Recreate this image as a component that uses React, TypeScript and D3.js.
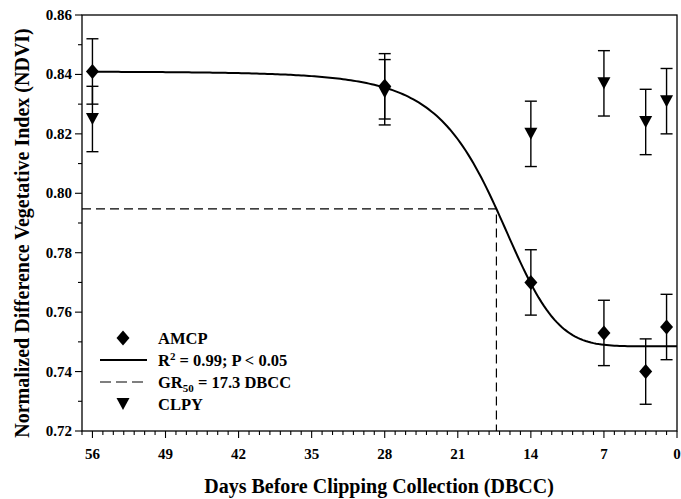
import React, { useEffect, useRef } from "react";
import * as d3 from "d3";

// days before clipping collection
const days = [56, 28, 14, 7, 3, 1];
// AMCP means and standard errors
const amcp = [0.841, 0.836, 0.770, 0.753, 0.740, 0.755];
const amcpErr = [0.011, 0.011, 0.011, 0.011, 0.011, 0.011];
// CLPY means and standard errors
const clpy = [0.825, 0.834, 0.820, 0.837, 0.824, 0.831];
const clpyErr = [0.011, 0.011, 0.011, 0.011, 0.011, 0.011];

// fitted log-logistic model for AMCP
const fitUpper = 0.841;
const fitLower = 0.7485;
const gr50 = 17.3;
const fitSlope = 5.76;

const xTicks = [56, 49, 42, 35, 28, 21, 14, 7, 0];
const yTicks = [0.72, 0.74, 0.76, 0.78, 0.8, 0.82, 0.84, 0.86];

const legendLabels = ["AMCP", "R2 = 0.99; P < 0.05", "GR50 = 17.3 DBCC", "CLPY"];

const fit = (x: number) =>
    x <= 0 ? fitLower : fitLower + (fitUpper - fitLower) / (1 + Math.pow(gr50 / x, fitSlope));

const W = 681, H = 499;
const left = 82, right = 677, top = 15, bottom = 431;
const font = "'Liberation Serif', 'Times New Roman', serif";

const diamond = (w: number, h: number) =>
    `M0,${-h / 2}L${w / 2},0L0,${h / 2}L${-w / 2},0Z`;
const triangleDown = (w: number, h: number) =>
    `M${-w / 2},${-h / 2}L${w / 2},${-h / 2}L0,${h / 2}Z`;

const App = () => {
    const ref = useRef<SVGSVGElement>(null);

    useEffect(() => {
        const svg = d3.select(ref.current);
        svg.selectAll("*").remove();

        const x = d3.scaleLinear().domain([57, 0]).range([left, right]);
        const y = d3.scaleLinear().domain([0.72, 0.86]).range([bottom, top]);

        // frame
        svg.append("rect")
            .attr("x", left).attr("y", top)
            .attr("width", right - left).attr("height", bottom - top)
            .attr("fill", "none").attr("stroke", "#000").attr("stroke-width", 1.3);

        // x axis ticks
        const xMinor = d3.range(57, -1, -1);
        svg.append("g").selectAll("line").data(xMinor).enter().append("line")
            .attr("x1", d => x(d)).attr("x2", d => x(d))
            .attr("y1", bottom).attr("y2", d => bottom + (d % 7 === 0 ? 7 : 4))
            .attr("stroke", "#000").attr("stroke-width", 1.1);
        svg.append("g").selectAll("text").data(xTicks).enter().append("text")
            .attr("x", d => x(d)).attr("y", 459)
            .attr("text-anchor", "middle")
            .attr("font-family", font).attr("font-weight", "bold").attr("font-size", 15)
            .text(d => d);

        // y axis ticks
        const yMinor = d3.range(0, 15).map(i => 0.72 + i * 0.01);
        svg.append("g").selectAll("line").data(yMinor).enter().append("line")
            .attr("x1", (d, i) => left - (i % 2 === 0 ? 7 : 4)).attr("x2", left)
            .attr("y1", d => y(d)).attr("y2", d => y(d))
            .attr("stroke", "#000").attr("stroke-width", 1.1);
        svg.append("g").selectAll("text").data(yTicks).enter().append("text")
            .attr("x", left - 10).attr("y", d => y(d) + 5)
            .attr("text-anchor", "end")
            .attr("font-family", font).attr("font-weight", "bold").attr("font-size", 15)
            .text(d => d.toFixed(2));

        // axis titles
        svg.append("text")
            .attr("x", 379).attr("y", 493)
            .attr("text-anchor", "middle")
            .attr("font-family", font).attr("font-weight", "bold").attr("font-size", 20)
            .text("Days Before Clipping Collection (DBCC)");
        svg.append("text")
            .attr("transform", `translate(29,233) rotate(-90)`)
            .attr("text-anchor", "middle")
            .attr("font-family", font).attr("font-weight", "bold").attr("font-size", 20)
            .text("Normalized Difference Vegetative Index (NDVI)");

        // GR50 dashed guide
        const g50 = fit(gr50);
        svg.append("path")
            .attr("d", `M${left},${y(g50)}H${x(gr50)}V${bottom}`)
            .attr("fill", "none").attr("stroke", "#000").attr("stroke-width", 1.2)
            .attr("stroke-dasharray", "9,5");

        // fitted curve
        const curveX = d3.range(56, -0.01, -0.25);
        const line = d3.line<number>().x(d => x(d)).y(d => y(fit(d))).curve(d3.curveLinear);
        svg.append("path")
            .attr("d", line(curveX))
            .attr("fill", "none").attr("stroke", "#000").attr("stroke-width", 2);

        const errorBars = (vals: number[], errs: number[]) => {
            const g = svg.append("g").attr("stroke", "#000").attr("stroke-width", 1.4);
            days.forEach((d, i) => {
                const cx = x(d);
                const y1 = y(vals[i] + errs[i]);
                const y2 = y(vals[i] - errs[i]);
                g.append("line").attr("x1", cx).attr("x2", cx).attr("y1", y1).attr("y2", y2);
                g.append("line").attr("x1", cx - 6).attr("x2", cx + 6).attr("y1", y1).attr("y2", y1);
                g.append("line").attr("x1", cx - 6).attr("x2", cx + 6).attr("y1", y2).attr("y2", y2);
            });
        };

        // CLPY
        errorBars(clpy, clpyErr);
        svg.append("g").selectAll("path").data(clpy).enter().append("path")
            .attr("d", triangleDown(13, 12))
            .attr("transform", (d, i) => `translate(${x(days[i])},${y(d)})`)
            .attr("fill", "#000");

        // AMCP
        errorBars(amcp, amcpErr);
        svg.append("g").selectAll("path").data(amcp).enter().append("path")
            .attr("d", diamond(13, 15))
            .attr("transform", (d, i) => `translate(${x(days[i])},${y(d)})`)
            .attr("fill", "#000");

        // legend
        const lg = svg.append("g");
        const rowY = [338, 360, 382, 404];
        lg.append("path").attr("d", diamond(13, 15))
            .attr("transform", `translate(123,${rowY[0]})`).attr("fill", "#000");
        lg.append("line").attr("x1", 100).attr("x2", 147).attr("y1", rowY[1]).attr("y2", rowY[1])
            .attr("stroke", "#000").attr("stroke-width", 2);
        lg.append("line").attr("x1", 100).attr("x2", 147).attr("y1", rowY[2]).attr("y2", rowY[2])
            .attr("stroke", "#000").attr("stroke-width", 1.2).attr("stroke-dasharray", "11,5");
        lg.append("path").attr("d", triangleDown(13, 12))
            .attr("transform", `translate(123,${rowY[3]})`).attr("fill", "#000");

        const txt = (i: number) => lg.append("text")
            .attr("x", 158).attr("y", rowY[i] + 5.5)
            .attr("font-family", font).attr("font-weight", "bold").attr("font-size", 16.5);
        txt(0).text(legendLabels[0]);
        const r2 = txt(1);
        r2.append("tspan").text("R");
        r2.append("tspan").attr("dy", -6).attr("font-size", 11).text("2");
        r2.append("tspan").attr("dy", 6).text(" = 0.99; P < 0.05");
        const gr = txt(2);
        gr.append("tspan").text("GR");
        gr.append("tspan").attr("dy", 4).attr("font-size", 11).text("50");
        gr.append("tspan").attr("dy", -4).text(" = 17.3 DBCC");
        txt(3).text(legendLabels[3]);
    }, []);

    return (
        <svg ref={ref} width={W} height={H}
             style={{ position: "absolute", left: 0, top: 0, background: "#fff" }} />
    );
};

export default App;
